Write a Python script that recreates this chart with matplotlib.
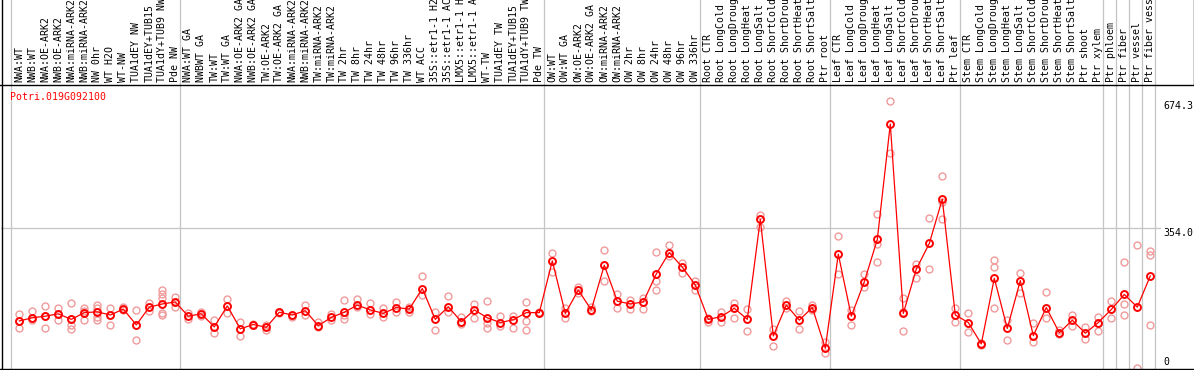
import matplotlib
matplotlib.use("Agg")
import matplotlib.pyplot as plt
from matplotlib.lines import Line2D

# sample names (left to right), as far as they can be read
labels = [
    "NWA:WT", "NWB:WT", "NWA:OE-ARK2", "NWB:OE-ARK2", "NWA:miRNA-ARK2", "NWB:miRNA-ARK2",
    "NW 0hr", "WT H2O", "WT-NW", "TUA1dEY NW", "TUA1dEY+TUB15", "TUA1dY+TUB9 NW", "Pde NW",
    "NWA:WT GA", "NWBWT GA", "TW:WT", "TW:WT GA", "NWA:OE-ARK2 GA", "NWB:OE-ARK2 GA",
    "TW:OE-ARK2", "TW:OE-ARK2 GA", "NWA:miRNA-ARK2", "NWB:miRNA-ARK2", "TW:miRNA-ARK2",
    "TW:miRNA-ARK2", "TW 2hr", "TW 8hr", "TW 24hr", "TW 48hr", "TW 96hr", "TW 336hr", "WT ACC",
    "35S::etr1-1 H2", "35S::etr1-1 AC", "LMX5::etr1-1 H", "LMX5::etr1-1 A", "WT-TW",
    "TUA1dEY TW", "TUA1dEY+TUB15", "TUA1dY+TUB9 TW", "Pde TW",
    "OW:WT", "OW:WT GA", "OW:OE-ARK2", "OW:OE-ARK2 GA", "OW:miRNA-ARK2", "OW:miRNA-ARK2",
    "OW 2hr", "OW 8hr", "OW 24hr", "OW 48hr", "OW 96hr", "OW 336hr",
    "Root CTR", "Root LongCold", "Root LongDroug", "Root LongHeat", "Root LongSalt",
    "Root ShortCold", "Root ShortDrou", "Root ShortHeat", "Root ShortSalt", "Ptr root",
    "Leaf CTR", "Leaf LongCold", "Leaf LongDroug", "Leaf LongHeat", "Leaf LongSalt",
    "Leaf ShortCold", "Leaf ShortDrou", "Leaf ShortHeat", "Leaf ShortSalt", "Ptr leaf",
    "Stem CTR", "Stem LongCold", "Stem LongDroug", "Stem LongHeat", "Stem LongSalt",
    "Stem ShortCold", "Stem ShortDrou", "Stem ShortHeat", "Stem ShortSalt", "Ptr shoot",
    "Ptr xylem", "Ptr phloem", "Ptr fiber", "Ptr vessel", "Ptr fiber vess",
]

# mean expression per sample
means = [
    119, 127, 131, 137, 123, 140, 142, 134, 149, 109, 154, 162, 167,
    131, 137, 104, 157, 99, 110, 103, 141, 134, 145, 107, 128, 141, 159, 147, 138, 153,
    149, 201, 123, 155, 117, 147, 127, 115, 122, 140, 140,
    271, 138, 197, 147, 260, 169, 162, 167, 238, 292, 255, 210,
    123, 130, 151, 123, 376, 81, 159, 121, 153, 50,
    288, 131, 218, 325, 617, 138, 250, 315, 427, 134,
    115, 61, 227, 100, 221, 82, 153, 89, 121, 88, 115, 148, 186, 154, 233,
]

# individual replicates per sample
replicates = [
    [137, 100, 119], [145, 121, 127], [157, 100, 131], [151, 121, 137], [165, 109, 99, 123],
    [151, 121, 145], [159, 121, 130, 151], [151, 108, 134], [155, 146], [147, 71],
    [165, 145], [197, 187, 134, 140, 176], [179, 154],
    [140, 123], [142, 131], [121, 89], [174, 140], [116, 81], [111, 108], [109, 96],
    [142, 138], [134, 130], [159, 134], [116, 103], [137, 121], [172, 134, 123], [174, 155],
    [165, 137], [151, 130], [167, 141], [155, 141], [233, 185], [141, 96], [182, 141],
    [130, 112], [162, 126], [170, 115, 100], [132, 105], [132, 100], [167, 118, 96], [141, 138],
    [290, 244], [151, 126], [206, 189], [155, 143], [298, 220], [187, 151], [172, 148],
    [176, 149], [293, 220, 197], [311, 282], [266, 241], [221, 197],
    [116, 126], [141, 117], [165, 127], [148, 94], [387, 357], [98, 56], [170, 151],
    [143, 99], [159, 146], [67, 37],
    [334, 238], [147, 109], [238, 206], [390, 314, 269], [674.3, 543], [176, 94, 142],
    [263, 227], [379, 250], [486, 376, 420], [151, 116],
    [140, 90], [62, 59], [273, 255, 151], [121, 71], [241, 189], [113, 65], [191, 126],
    [96, 86], [134, 105], [103, 73], [130, 94], [170, 127], [267, 161, 133], [311, 0],
    [297, 286, 108],
]

group_bounds = [0, 13, 41, 53, 63, 73, 84, 85, 86, 87, 88]
gene = "Potri.019G092100"
y_ticks = [674.3, 354.0, 0]

W, H = 1194, 370
RED = "#ff0000"
PINK = "#f09a9a"
GRID = "#c4c4c4"
MONO = "DejaVu Sans Mono"

# pixel layout
x0_px, step_px = 19.3, 13.0
y0_px, per_px = 368.0, 2.529
top_px, bot_px, left_px, right_px = 84, 369, 1, 1193


def px_to_x(px):
    return (px - x0_px) / step_px


def py_to_y(py):
    return (y0_px - py) * per_px


fig = plt.figure(figsize=(W / 100, H / 100), dpi=100)
ax = fig.add_axes([left_px / W, 1 - bot_px / H, (right_px - left_px) / W, (bot_px - top_px) / H])
ax.set_xlim(px_to_x(left_px), px_to_x(right_px))
ax.set_ylim(py_to_y(bot_px), py_to_y(top_px))
ax.axis("off")

# grid lines
for k in group_bounds:
    xb = k - 0.66
    ax.plot([xb, xb], [py_to_y(bot_px), py_to_y(0)], color=GRID, lw=0.9,
            clip_on=False, zorder=1)
ax.plot([px_to_x(left_px), px_to_x(1160)], [354.0, 354.0], color=GRID, lw=0.9, zorder=1)

xs = list(range(len(means)))

# replicates
rx, ry = [], []
for i, reps in enumerate(replicates):
    for r in reps:
        rx.append(i)
        ry.append(r)
ax.plot(rx, ry, "o", mfc="none", mec=PINK, ms=5, mew=1.0, zorder=2, clip_on=False)

# mean line
ax.plot(xs, means, "-", color=RED, lw=0.9, zorder=3)
ax.plot(xs, means, "o", mfc="none", mec=RED, ms=5, mew=1.4, zorder=4)

# sample labels above plot
for i, lab in enumerate(labels):
    ax.text(i, py_to_y(top_px - 1.5), lab, rotation=90, ha="center", va="bottom",
            fontsize=7.1, family=MONO, color="black", clip_on=False)

ax.text(px_to_x(10), py_to_y(97), gene, ha="left", va="center",
        fontsize=7.1, family=MONO, color=RED)

# right value labels
for v in y_ticks:
    if v == 0:
        ax.text(px_to_x(1163), py_to_y(367), "0", ha="left", va="bottom",
                fontsize=7.1, family=MONO, clip_on=False)
    else:
        ax.text(px_to_x(1163), v - 4.7 * per_px, f"{v:.1f}", ha="left", va="center",
                fontsize=7.1, family=MONO, clip_on=False)

# frame lines
def fig_line(x1, y1, x2, y2):
    fig.add_artist(Line2D([x1 / W, x2 / W], [1 - y1 / H, 1 - y2 / H],
                          color="black", lw=1.0))

fig_line(1.5, 0, 1.5, H)
fig_line(0, top_px + 0.5, W, top_px + 0.5)
fig_line(0, bot_px - 0.5, W, bot_px - 0.5)
fig_line(right_px + 0.5, 0, right_px + 0.5, top_px)

fig.savefig("out.png", dpi=100)
